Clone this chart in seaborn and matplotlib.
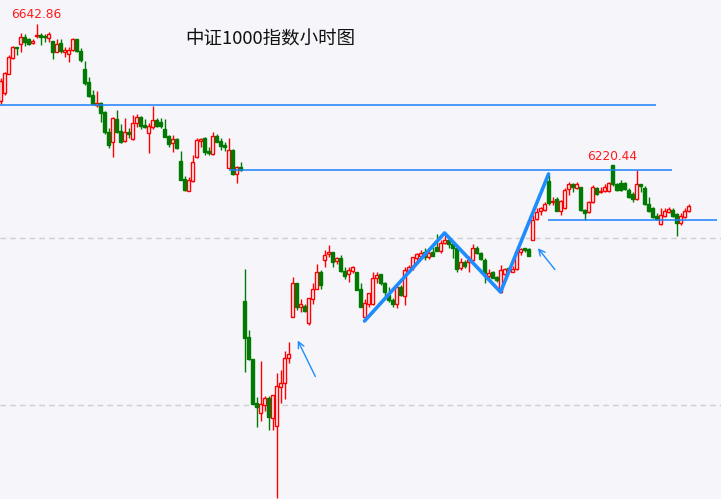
import matplotlib
matplotlib.use("Agg")
import matplotlib.pyplot as plt
import seaborn as sns
import pandas as pd

# 中证1000 小时K线 (每行10根)
opens = [
    6412, 6436, 6493, 6541, 6574, 6583, 6604, 6598, 6586, 6607,
    6610, 6607, 6601, 6592, 6559, 6586, 6559, 6553, 6565, 6598,
    6562, 6508, 6469, 6430, 6400, 6406, 6379, 6319, 6289, 6358,
    6322, 6292, 6319, 6298, 6346, 6364, 6340, 6316, 6334, 6355,
    6349, 6328, 6307, 6286, 6298, 6232, 6178, 6142, 6172, 6244,
    6292, 6301, 6262, 6253, 6307, 6292, 6280, 6211, 6265, 6193,
    6214, 5812, 5704, 5638, 5506, 5476, 5500, 5521, 5461, 5437,
    5554, 5566, 5641, 5764, 5866, 5794, 5797, 5746, 5818, 5848,
    5899, 5935, 5953, 5959, 5932, 5941, 5902, 5893, 5902, 5899,
    5848, 5764, 5803, 5803, 5881, 5893, 5866, 5830, 5815, 5803,
    5854, 5827, 5902, 5914, 5941, 5947, 5959, 5944, 5959, 5974,
    5962, 5986, 5995, 5983, 5971, 5911, 5929, 5929, 5935, 5971,
    5956, 5935, 5887, 5899, 5884, 5839, 5893, 5911, 5899, 5908,
    5959, 5971, 5968, 5995, 6058, 6082, 6085, 6172, 6109, 6118,
    6082, 6091, 6148, 6163, 6151, 6154, 6085, 6079, 6109, 6151,
    6139, 6142, 6142, 6220, 6163, 6166, 6166, 6145, 6133, 6118,
    6163, 6151, 6103, 6091, 6067, 6043, 6067, 6079, 6085, 6073,
    6046, 6064, 6082,
]
highs = [
    6481, 6499, 6550, 6577, 6574, 6616, 6613, 6601, 6598, 6642.86,
    6616, 6613, 6619, 6592, 6598, 6598, 6574, 6574, 6601, 6598,
    6571, 6532, 6484, 6445, 6442, 6409, 6382, 6331, 6364, 6385,
    6343, 6361, 6331, 6370, 6373, 6367, 6358, 6346, 6397, 6361,
    6361, 6358, 6310, 6310, 6301, 6262, 6187, 6184, 6250, 6301,
    6301, 6304, 6274, 6319, 6313, 6301, 6289, 6301, 6268, 6217,
    6229, 5908, 5725, 5638, 5524, 5632, 5527, 5527, 5530, 5596,
    5605, 5662, 5689, 5884, 5866, 5818, 5803, 5821, 5866, 5923,
    5905, 5965, 5980, 5959, 5944, 5950, 5914, 5914, 5917, 5899,
    5866, 5818, 5836, 5899, 5899, 5893, 5869, 5854, 5821, 5857,
    5860, 5914, 5920, 5944, 5956, 5965, 5971, 5968, 5974, 6013,
    5995, 6016, 5998, 5989, 5974, 5941, 5935, 5947, 5983, 5977,
    5959, 5941, 5908, 5902, 5887, 5920, 5911, 5914, 5917, 5962,
    5971, 5971, 5971, 6070, 6091, 6094, 6109, 6190, 6124, 6124,
    6115, 6151, 6169, 6166, 6169, 6154, 6088, 6112, 6160, 6154,
    6154, 6163, 6169, 6220.44, 6166, 6175, 6169, 6151, 6139, 6205,
    6163, 6157, 6124, 6094, 6076, 6091, 6091, 6094, 6091, 6076,
    6076, 6091, 6103,
]
lows = [
    6403, 6430, 6493, 6538, 6550, 6559, 6577, 6580, 6583, 6601,
    6580, 6589, 6589, 6538, 6559, 6556, 6544, 6529, 6562, 6559,
    6529, 6460, 6424, 6400, 6394, 6349, 6313, 6271, 6244, 6316,
    6286, 6289, 6301, 6295, 6334, 6328, 6331, 6256, 6328, 6334,
    6331, 6304, 6274, 6259, 6268, 6175, 6142, 6142, 6169, 6241,
    6274, 6250, 6250, 6250, 6289, 6265, 6262, 6211, 6190, 6166,
    6202, 5599, 5635, 5503, 5434, 5452, 5482, 5425, 5425, 5221,
    5506, 5518, 5626, 5764, 5785, 5779, 5779, 5740, 5803, 5848,
    5848, 5914, 5944, 5914, 5923, 5899, 5878, 5869, 5896, 5845,
    5794, 5761, 5794, 5800, 5866, 5860, 5827, 5809, 5794, 5791,
    5827, 5800, 5896, 5905, 5932, 5941, 5935, 5938, 5947, 5962,
    5956, 5983, 5971, 5941, 5899, 5905, 5911, 5899, 5929, 5953,
    5935, 5866, 5881, 5881, 5869, 5836, 5884, 5899, 5899, 5905,
    5950, 5959, 5947, 5995, 6055, 6070, 6082, 6100, 6100, 6082,
    6070, 6088, 6130, 6139, 6148, 6082, 6055, 6076, 6106, 6130,
    6136, 6139, 6139, 6157, 6142, 6142, 6145, 6121, 6109, 6115,
    6139, 6100, 6079, 6061, 6055, 6040, 6064, 6076, 6064, 6007,
    6040, 6061, 6079,
]
closes = [
    6472, 6496, 6544, 6574, 6571, 6604, 6589, 6583, 6592, 6610,
    6604, 6604, 6613, 6559, 6583, 6562, 6565, 6565, 6598, 6562,
    6535, 6466, 6427, 6403, 6406, 6376, 6319, 6280, 6361, 6319,
    6289, 6319, 6313, 6346, 6364, 6337, 6334, 6337, 6355, 6337,
    6337, 6304, 6283, 6298, 6271, 6175, 6145, 6175, 6229, 6295,
    6298, 6259, 6256, 6307, 6289, 6277, 6274, 6265, 6193, 6214,
    6205, 5701, 5638, 5503, 5494, 5503, 5521, 5464, 5530, 5557,
    5566, 5641, 5653, 5866, 5794, 5803, 5782, 5821, 5848, 5899,
    5860, 5950, 5959, 5929, 5941, 5902, 5887, 5905, 5914, 5845,
    5794, 5806, 5836, 5881, 5890, 5866, 5839, 5815, 5803, 5854,
    5830, 5905, 5914, 5944, 5953, 5956, 5944, 5956, 5947, 5962,
    5986, 5995, 5983, 5971, 5908, 5929, 5917, 5935, 5971, 5956,
    5938, 5896, 5896, 5881, 5875, 5905, 5908, 5905, 5908, 5959,
    5968, 5965, 5947, 6055, 6079, 6091, 6103, 6106, 6112, 6082,
    6112, 6145, 6163, 6154, 6163, 6085, 6076, 6109, 6154, 6133,
    6142, 6154, 6166, 6163, 6145, 6145, 6148, 6124, 6118, 6163,
    6157, 6103, 6082, 6064, 6058, 6070, 6082, 6088, 6067, 6046,
    6067, 6082, 6097,
]

# 画线 (K线序号, 点位)
zigzag_idx = [91, 111, 125, 137]
zigzag_price = [5752, 6016, 5839, 6193]
levels = [6400, 6205, 6055]
level_start = [-0.2, 57.1, 136.9]
level_end = [163.8, 167.9, 179.0]
grid_levels = [6000, 5500]
arrows = [((79, 5578), (74, 5701)), ((139, 5900), (133.9, 5977))]

title = "中证1000指数小时图"

BG = "#f5f5fa"
UP = "#ff0000"
DOWN = "#007a00"
BLUE = "#1a82ff"

df = pd.DataFrame({"open": opens, "high": highs, "low": lows, "close": closes})
df["idx"] = range(len(df))
df["up"] = df["close"] >= df["open"]

sns.set_style("white", {"axes.facecolor": BG, "figure.facecolor": BG})
plt.rcParams["font.family"] = ["Noto Sans CJK SC", "DejaVu Sans"]

fig = plt.figure(figsize=(7.21, 4.99), dpi=100)
ax = fig.add_axes([0, 0, 1, 1])
ax.set_facecolor(BG)

for lv in grid_levels:
    ax.axhline(lv, color="#cfcfcf", lw=1, ls=(0, (4, 3)), zorder=1)

for lv, a, b in zip(levels, level_start, level_end):
    ax.hlines(lv, a, b, color=BLUE, lw=1.1, zorder=4)

for is_up, color in [(True, UP), (False, DOWN)]:
    d = df[df["up"] == is_up]
    ax.vlines(d["idx"], d["low"], d["high"], color=color, lw=1, zorder=2)
    bottom = d[["open", "close"]].min(axis=1)
    height = (d["close"] - d["open"]).abs().clip(lower=1.5)
    ax.bar(d["idx"], height, bottom=bottom, width=0.78,
           color=BG if is_up else color, edgecolor=color, lw=1, zorder=3)

sns.lineplot(x=zigzag_idx, y=zigzag_price, ax=ax, color="#1e8cff", lw=2.6,
             zorder=5, sort=False)

for (x0, y0), (x1, y1) in arrows:
    ax.annotate("", xy=(x1, y1), xytext=(x0, y0),
                arrowprops=dict(arrowstyle="->", color="#1e8cff", lw=1,
                                mutation_scale=11), zorder=5)

i_hi = df["high"].idxmax()
ax.text(i_hi, df["high"][i_hi] + 8, f"{df['high'][i_hi]:.2f}", color="#ff1a1a",
        fontsize=8.7, ha="center", va="bottom", family=["DejaVu Sans"])
i_hi2 = df["high"][100:].idxmax()
ax.text(i_hi2, df["high"][i_hi2] + 6, f"{df['high'][i_hi2]:.2f}", color="#ff1a1a",
        fontsize=8.7, ha="center", va="bottom", family=["DejaVu Sans"])

ax.text(67.5, 6595, title, fontsize=13.3, color="#111111", ha="center",
        va="center")

ax.set_xlim(-0.125, 180.1)
ax.set_ylim(5218, 6715)
ax.set_xticks([])
ax.set_yticks([])
sns.despine(ax=ax, left=True, bottom=True)

fig.savefig("out.png", dpi=100, facecolor=BG)
